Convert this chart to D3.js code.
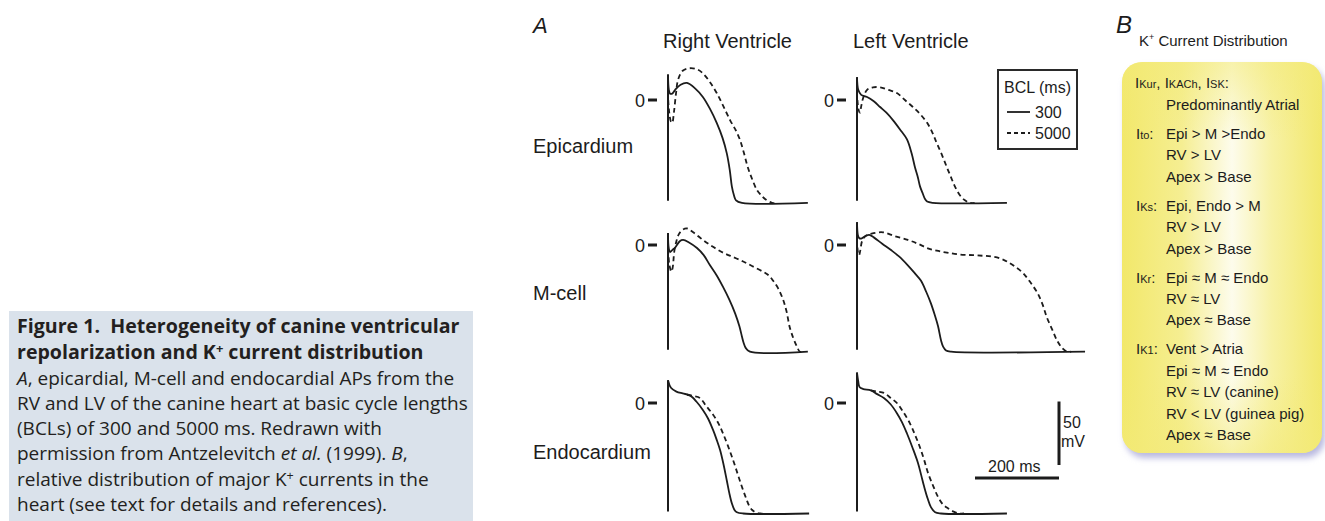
<!DOCTYPE html>
<html>
<head>
<meta charset="utf-8">
<script src="https://cdn.jsdelivr.net/npm/d3@7"></script>
<style>
  body { margin: 0; background: #fff; }
  svg { display: block; }
</style>
</head>
<body>
<svg></svg>
<script>
// ---- data: [time (ms), membrane potential (mV)] ----
var rvEpi300 = [[0,-81],[0,20],[2,8],[5,5],[10,5],[17,8],[30,12],[45,13.4],[65,9],[83,2.4],[100,-7],[116,-18],[130,-30],[140,-42],[147,-55],[152,-68],[157,-75],[162,-79],[176,-81],[333,-81]];
var rvEpi5000 = [[0.5,0],[3,-10],[7,-17],[10,-18],[14,-10],[19,5],[24,16],[35,23],[52,25],[70,24],[83,21],[100,14],[116,5.5],[132,-5],[148,-16],[160,-23],[171,-31],[181,-42],[190,-53],[200,-62],[212,-71],[222,-75],[231,-78],[248,-81],[262,-81]];
var rvM300 = [[0,-84],[0,9.4],[2,-3],[5,-5.5],[10,-4],[17,-2],[28,3],[36,4],[50,2],[69,-2.4],[85,-8],[100,-16],[116,-24],[131,-33],[146,-43],[160,-54],[170,-64],[176,-72],[180,-77],[185,-81],[195,-84],[333,-84]];
var rvM5000 = [[0.5,-3],[3,-15],[8,-21],[11,-18],[15,-5],[20,3],[25,8],[35,12],[45,13],[60,10],[83,4],[105,-1],[131,-6],[155,-9.5],[179,-13],[200,-16.5],[226,-21],[240,-24],[250,-28],[262,-34],[274,-43],[282,-52],[290,-65],[298,-73],[307,-80],[314,-84],[322,-84]];
var rvEndo300 = [[0,-87],[0,18],[7,12],[20,9],[35,7.5],[52,6],[68,1],[83,-5.5],[95,-12],[107,-21],[116,-29],[124,-37],[132,-48],[140,-61],[146,-71],[152,-79],[158,-84],[164,-86],[179,-87],[336,-87]];
var rvEndo5000 = [[45,6.5],[60,5.5],[76,4],[90,-2],[107,-9],[120,-16],[131,-24],[143,-34],[155,-45],[166,-56],[176,-66],[186,-75],[195,-82],[205,-85.5],[219,-87],[230,-87]];

var lvEpi300 = [[0,-81],[0,18],[3,8],[10,4],[24,2.4],[40,-1],[55,-5.5],[70,-10],[86,-16],[102,-23],[119,-31],[130,-42],[138,-53],[145,-61],[150,-68],[157,-74],[162,-78],[167,-80],[180,-81],[357,-81]];
var lvEpi5000 = [[1,0],[4,-8],[7,-10],[10,-5],[15,2],[24,8],[38,10],[55,10],[75,8],[95,5.5],[114,0],[133,-5.5],[150,-11],[167,-18],[180,-26],[190,-34],[202,-43],[214,-53],[224,-61],[233,-68],[245,-75],[257,-79],[269,-81],[280,-81]];
var lvM300 = [[0,-84],[0,18],[2,8],[5,5.5],[10,5],[20,7],[29,8],[40,6],[60,1],[81,-4],[100,-9],[121,-16],[137,-22],[152,-28],[165,-37],[176,-46],[185,-55],[193,-64],[200,-75],[205,-80],[212,-83],[224,-84],[543,-84]];
var lvM5000 = [[1,-2],[3,-7],[5,-8],[8,-4],[12,3],[20,7],[35,9],[62,10],[90,7],[121,4],[145,1],[167,-2.4],[190,-4.5],[214,-6],[245,-7.5],[276,-8],[300,-8.5],[319,-9],[340,-10.5],[357,-13],[376,-17],[395,-22],[412,-29],[430,-38],[442,-47],[452,-57],[464,-66],[476,-75],[488,-81],[500,-84],[510,-84]];
var lvEndo300 = [[0,-87],[0,24],[3,17],[6,12.6],[15,11],[33,10],[48,7],[64,4],[80,-1],[95,-8],[107,-15],[119,-24],[132,-35],[145,-47],[153,-57],[160,-66],[168,-75],[176,-82],[186,-86],[200,-87],[357,-87]];
var lvEndo5000 = [[33,10],[48,9],[64,8],[80,4],[95,0],[110,-7],[126,-16],[138,-25],[150,-35],[160,-45],[169,-55],[181,-65],[193,-74],[205,-80],[217,-83],[230,-85.5],[243,-87],[255,-87]];

var columns = ["Right Ventricle", "Left Ventricle"];
var rows = ["Epicardium", "M-cell", "Endocardium"];
var traces300 = [[rvEpi300, lvEpi300], [rvM300, lvM300], [rvEndo300, lvEndo300]];
var traces5000 = [[rvEpi5000, lvEpi5000], [rvM5000, lvM5000], [rvEndo5000, lvEndo5000]];
var legendTitle = "BCL (ms)";
var legendItems = ["300", "5000"];
var scaleBarMs = 200, scaleBarMv = 50;

var currentLabels = ["I_{Kur}, I_{KACh}, I_{SK}:", "I_{to}:", "I_{Ks}:", "I_{Kr}:", "I_{K1}:"];
var currentNotes = [
  ["Predominantly Atrial"],
  ["Epi > M >Endo", "RV > LV", "Apex > Base"],
  ["Epi, Endo > M", "RV > LV", "Apex > Base"],
  ["Epi ≈ M ≈ Endo", "RV ≈ LV", "Apex ≈ Base"],
  ["Vent > Atria", "Epi ≈ M ≈ Endo", "RV ≈ LV (canine)", "RV < LV (guinea pig)", "Apex ≈ Base"]
];

var captionTitle = ["Figure 1.  Heterogeneity of canine ventricular", "repolarization and K^+ current distribution"];
var captionBody = [
  "*A*, epicardial, M-cell and endocardial APs from the",
  "RV and LV of the canine heart at basic cycle lengths",
  "(BCLs) of 300 and 5000 ms. Redrawn with",
  "permission from Antzelevitch *et al.* (1999). *B*,",
  "relative distribution of major K^+ currents in the",
  "heart (see text for details and references)."
];

// ---- layout ----
var W = 1325, H = 521;
var svg = d3.select("svg").attr("width", W).attr("height", H);
var sans = "'Liberation Sans', Arial, Helvetica, sans-serif";
var ink = "#1c1c1c";

var pxPerMs = 0.42, pxPerMv = 1.27;
var colX = [668, 857];
var rowZero = [100, 245, 403];

function xScale(c) {
  return d3.scaleLinear().domain([0, 600]).range([colX[c], colX[c] + 600 * pxPerMs]);
}
function yScale(r) {
  return d3.scaleLinear().domain([0, -100]).range([rowZero[r], rowZero[r] + 100 * pxPerMv]);
}

// ---- caption box ----
var cap = svg.append("g");
cap.append("rect").attr("x", 9).attr("y", 311).attr("width", 464).attr("height", 210).attr("fill", "#dae2eb");

function richText(sel, str, baseSize) {
  // *italic*, ^+ superscript
  var parts = str.split(/(\*[^*]+\*|\^\+)/);
  var pendingDy = 0;
  parts.forEach(function(p) {
    if (!p) return;
    var ts;
    if (p[0] === "*") {
      ts = sel.append("tspan").attr("font-style", "italic").text(p.slice(1, -1));
    } else if (p === "^+") {
      sel.append("tspan").attr("font-size", baseSize * 0.66).attr("dy", -baseSize * 0.3).text("+");
      pendingDy = baseSize * 0.3;
      return;
    } else {
      ts = sel.append("tspan").text(p);
    }
    if (pendingDy) { ts.attr("dy", pendingDy); pendingDy = 0; }
  });
}

var capFont = "'Open Sans', 'Noto Sans', sans-serif";
captionTitle.forEach(function(line, i) {
  var t = cap.append("text").attr("x", 17).attr("y", 333 + i * 25.5)
    .attr("font-family", capFont).attr("font-weight", "bold").attr("font-size", 19.6)
    .attr("fill", "#231f20").style("white-space", "pre");
  richText(t, line, 19.6);
});
captionBody.forEach(function(line, i) {
  var t = cap.append("text").attr("x", 17).attr("y", 384.5 + i * 25.3)
    .attr("font-family", capFont).attr("font-size", 19)
    .attr("fill", "#231f20");
  richText(t, line, 19);
});

// ---- panel A ----
var pa = svg.append("g").attr("font-family", sans).attr("fill", ink);
pa.append("text").attr("x", 533).attr("y", 33).attr("font-size", 22).attr("font-style", "italic").text("A");

columns.forEach(function(c, i) {
  pa.append("text").attr("x", [663, 853][i]).attr("y", 48).attr("font-size", 20).text(c);
});
rows.forEach(function(r, i) {
  pa.append("text").attr("x", 533).attr("y", [153, 300, 459][i]).attr("font-size", 20).text(r);
});

var smooth = d3.line().curve(d3.curveCatmullRom.alpha(0.5));

rows.forEach(function(r, ri) {
  var y = yScale(ri);
  columns.forEach(function(c, ci) {
    var x = xScale(ci);
    var g = svg.append("g");
    // zero tick
    g.append("text").attr("x", x(0) - 23).attr("y", y(0) + 6.5).attr("text-anchor", "end")
      .attr("font-family", sans).attr("font-size", 18).attr("fill", ink).text("0");
    g.append("line").attr("x1", x(0) - 20).attr("x2", x(0) - 11).attr("y1", y(0)).attr("y2", y(0))
      .attr("stroke", ink).attr("stroke-width", 3);

    var s = traces300[ri][ci];
    // upstroke
    g.append("line").attr("x1", x(s[0][0])).attr("x2", x(s[1][0]))
      .attr("y1", y(s[0][1]) - 2).attr("y2", y(s[1][1]))
      .attr("stroke", ink).attr("stroke-width", 2);
    g.append("path")
      .attr("d", smooth(s.slice(1).map(function(d) { return [x(d[0]), y(d[1])]; })))
      .attr("fill", "none").attr("stroke", ink).attr("stroke-width", 1.8);

    var dsh = traces5000[ri][ci];
    g.append("path")
      .attr("d", smooth(dsh.map(function(d) { return [x(d[0]), y(d[1])]; })))
      .attr("fill", "none").attr("stroke", ink).attr("stroke-width", 1.8)
      .attr("stroke-dasharray", "5,3.5");
  });
});

// legend
var lg = svg.append("g").attr("font-family", sans).attr("fill", ink);
lg.append("rect").attr("x", 998).attr("y", 70).attr("width", 79).attr("height", 79)
  .attr("fill", "#fff").attr("stroke", "#2a2a2a").attr("stroke-width", 2);
lg.append("text").attr("x", 1004).attr("y", 93).attr("font-size", 16).text(legendTitle);
legendItems.forEach(function(d, i) {
  var yy = 112 + i * 21;
  lg.append("line").attr("x1", 1007).attr("x2", 1030).attr("y1", yy).attr("y2", yy)
    .attr("stroke", ink).attr("stroke-width", 1.8)
    .attr("stroke-dasharray", i ? "4,3" : null);
  lg.append("text").attr("x", 1035).attr("y", yy + 6).attr("font-size", 16).text(d);
});

// scale bars (same px/ms and px/mV as the traces)
var sx = xScale(1), sy = yScale(2);
var barRight = 1059, barBottom = 478;
var sb = svg.append("g").attr("font-family", sans).attr("fill", ink);
sb.append("line").attr("x1", barRight - (sx(scaleBarMs) - sx(0))).attr("x2", barRight)
  .attr("y1", barBottom).attr("y2", barBottom).attr("stroke", ink).attr("stroke-width", 3);
sb.append("line").attr("x1", barRight).attr("x2", barRight)
  .attr("y1", 465).attr("y2", 465 - (sy(-scaleBarMv) - sy(0)))
  .attr("stroke", ink).attr("stroke-width", 3);
sb.append("text").attr("x", 988).attr("y", 472).attr("font-size", 16).text(scaleBarMs + " ms");
sb.append("text").attr("x", 1063).attr("y", 428).attr("font-size", 16).text(scaleBarMv);
sb.append("text").attr("x", 1061).attr("y", 447).attr("font-size", 16).text("mV");

// ---- panel B ----
var defs = svg.append("defs");
var grad = defs.append("linearGradient").attr("id", "yel").attr("x1", 0).attr("x2", 1).attr("y1", 0).attr("y2", 0);
[[0, "#f2e86a"], [0.3, "#f5ee92"], [0.55, "#fdfcec"], [0.75, "#f7f1a4"], [1, "#f2e86c"]].forEach(function(s) {
  grad.append("stop").attr("offset", s[0]).attr("stop-color", s[1]);
});
var vg = defs.append("linearGradient").attr("id", "fadeV").attr("x1", 0).attr("x2", 0).attr("y1", 0).attr("y2", 1);
[[0, "#f3ea78", 0.55], [0.2, "#f3ea78", 0], [0.8, "#f3ea78", 0], [1, "#f3ea78", 0.6]].forEach(function(s) {
  vg.append("stop").attr("offset", s[0]).attr("stop-color", s[1]).attr("stop-opacity", s[2]);
});
defs.append("filter").attr("id", "blur").attr("x", -0.1).attr("y", -0.1).attr("width", 1.2).attr("height", 1.2)
  .append("feGaussianBlur").attr("stdDeviation", 3);

var pb = svg.append("g").attr("font-family", sans).attr("fill", ink);
pb.append("text").attr("x", 1116).attr("y", 33).attr("font-size", 24).attr("font-style", "italic").text("B");
var hd = pb.append("text").attr("x", 1139).attr("y", 46).attr("font-size", 15);
hd.append("tspan").text("K");
hd.append("tspan").attr("font-size", 9).attr("dy", -6).text("+");
hd.append("tspan").attr("dy", 6).text(" Current Distribution");

var bx = 1122, by = 62, bw = 200, bh = 391;
pb.append("rect").attr("x", bx + 3).attr("y", by + 5).attr("width", bw).attr("height", bh)
  .attr("rx", 20).attr("fill", "#b9b9e0").attr("filter", "url(#blur)");
pb.append("rect").attr("x", bx).attr("y", by).attr("width", bw).attr("height", bh)
  .attr("rx", 20).attr("fill", "url(#yel)");
pb.append("rect").attr("x", bx).attr("y", by).attr("width", bw).attr("height", bh)
  .attr("rx", 20).attr("fill", "url(#fadeV)");

function labelText(sel, str) {
  var parts = str.split(/_\{([^}]*)\}/);
  parts.forEach(function(p, i) {
    if (!p) return;
    if (i % 2) sel.append("tspan").attr("font-size", 11).text(p);
    else sel.append("tspan").text(p);
  });
}

var lineStep = 21.4, groupGap = 29;
var yy = 88;
currentLabels.forEach(function(lab, gi) {
  var t = pb.append("text").attr("x", gi ? 1136 : 1135).attr("y", yy).attr("font-size", 15);
  labelText(t, lab);
  if (gi === 0) yy += lineStep + 0.6;
  currentNotes[gi].forEach(function(n, ni) {
    pb.append("text").attr("x", 1166).attr("y", yy).attr("font-size", 15).text(n);
    if (ni < currentNotes[gi].length - 1) yy += lineStep;
  });
  yy += groupGap;
});
</script>
</body>
</html>
